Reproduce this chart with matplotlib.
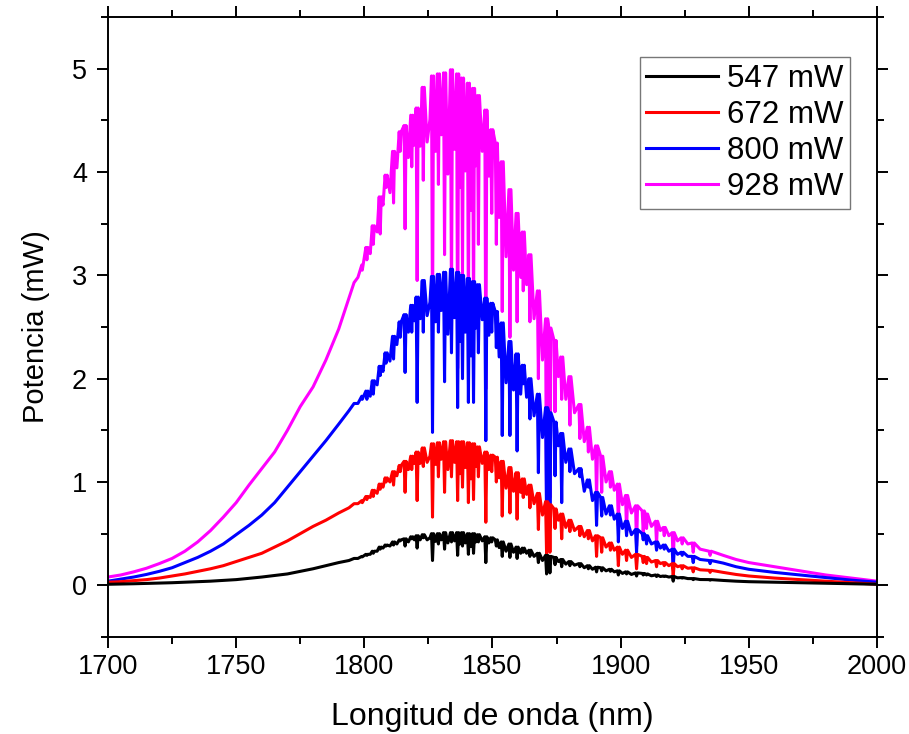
import numpy as np
import matplotlib
matplotlib.use("Agg")
import matplotlib.pyplot as plt
from matplotlib.ticker import MultipleLocator

plt.rcParams['font.family'] = ['Liberation Sans', 'DejaVu Sans']

labels = ["547 mW", "672 mW", "800 mW", "928 mW"]
colors = ["#000000", "#ff0000", "#0000ff", "#ff00ff"]

# --- smooth rising edge ---
left_wl = [1700, 1705, 1710, 1715, 1720, 1725, 1730, 1735, 1740, 1745, 1750,
           1755, 1760, 1765, 1770, 1775, 1780, 1785, 1790, 1794, 1796, 1799]
left_547 = [0.01, 0.012, 0.015, 0.018, 0.02, 0.025, 0.03, 0.035, 0.04, 0.048, 0.055,
            0.067, 0.08, 0.095, 0.11, 0.135, 0.16, 0.19, 0.22, 0.24, 0.26, 0.28]
left_672 = [0.03, 0.035, 0.045, 0.055, 0.07, 0.09, 0.11, 0.135, 0.16, 0.19, 0.23,
            0.27, 0.31, 0.37, 0.43, 0.50, 0.57, 0.63, 0.70, 0.75, 0.79, 0.82]
left_800 = [0.04, 0.06, 0.08, 0.105, 0.135, 0.17, 0.22, 0.27, 0.33, 0.40, 0.49,
            0.58, 0.68, 0.80, 0.95, 1.10, 1.25, 1.40, 1.56, 1.69, 1.76, 1.83]
left_928 = [0.08, 0.10, 0.13, 0.165, 0.21, 0.26, 0.33, 0.42, 0.53, 0.66, 0.80,
            0.97, 1.13, 1.29, 1.50, 1.73, 1.92, 2.18, 2.48, 2.78, 2.93, 3.10]

# --- strong absorption lines: wavelength, level beside the line, level at the bottom ---
dip_wl = [1801.0, 1803.5, 1806.2, 1808.5, 1811.4, 1814.0, 1815.9, 1818.5, 1820.6, 1823.0,
          1826.6, 1828.9, 1831.3, 1834.0, 1836.4, 1838.3, 1840.6, 1842.6, 1844.5, 1847.4,
          1849.7, 1851.5, 1853.8, 1856.8, 1859.6, 1862.0, 1864.6, 1867.9, 1871.1, 1872.4,
          1874.4, 1877.0, 1880.2, 1884.1, 1887.4, 1890.6, 1892.6, 1896.0, 1899.1, 1902.3,
          1906.2, 1908.8, 1910.1, 1914.0, 1917.0, 1920.5, 1924.0, 1928.3, 1934.9]

top_547 = [0.30, 0.33, 0.37, 0.39, 0.42, 0.44, 0.45, 0.47, 0.48, 0.49,
           0.50, 0.50, 0.51, 0.51, 0.51, 0.51, 0.50, 0.50, 0.49, 0.47,
           0.46, 0.44, 0.42, 0.40, 0.37, 0.36, 0.34, 0.31, 0.29, 0.28,
           0.27, 0.25, 0.23, 0.21, 0.19, 0.175, 0.17, 0.155, 0.14, 0.13,
           0.12, 0.115, 0.11, 0.10, 0.09, 0.085, 0.075, 0.065, 0.055]
bot_547 = [0.29, 0.31, 0.35, 0.38, 0.39, 0.43, 0.38, 0.45, 0.36, 0.46,
           0.24, 0.40, 0.35, 0.42, 0.29, 0.38, 0.30, 0.31, 0.42, 0.22,
           0.42, 0.38, 0.28, 0.27, 0.26, 0.32, 0.28, 0.22, 0.11, 0.12,
           0.20, 0.18, 0.19, 0.18, 0.16, 0.13, 0.14, 0.135, 0.10, 0.11,
           0.09, 0.10, 0.10, 0.085, 0.085, 0.04, 0.07, 0.055, 0.05]

top_672 = [0.86, 0.92, 0.98, 1.04, 1.10, 1.16, 1.20, 1.25, 1.29, 1.33,
           1.37, 1.38, 1.39, 1.40, 1.39, 1.39, 1.38, 1.37, 1.34, 1.29,
           1.26, 1.24, 1.20, 1.14, 1.09, 1.03, 0.97, 0.89, 0.81, 0.78,
           0.74, 0.69, 0.63, 0.57, 0.53, 0.48, 0.46, 0.41, 0.37, 0.34,
           0.30, 0.28, 0.27, 0.24, 0.22, 0.21, 0.19, 0.17, 0.145]
bot_672 = [0.83, 0.86, 0.93, 1.00, 0.97, 1.10, 0.90, 1.12, 0.82, 1.15,
           0.66, 1.05, 0.90, 1.05, 0.82, 0.95, 0.80, 0.83, 1.05, 0.61,
           1.10, 1.00, 0.67, 0.70, 0.64, 0.85, 0.75, 0.54, 0.30, 0.32,
           0.55, 0.45, 0.52, 0.48, 0.45, 0.28, 0.32, 0.34, 0.19, 0.24,
           0.16, 0.22, 0.21, 0.18, 0.19, 0.09, 0.16, 0.13, 0.125]

top_800 = [1.88, 1.98, 2.12, 2.25, 2.41, 2.55, 2.62, 2.71, 2.79, 2.95,
           2.99, 3.01, 3.03, 3.06, 3.03, 3.00, 2.97, 2.94, 2.91, 2.78,
           2.73, 2.65, 2.54, 2.36, 2.24, 2.13, 2.00, 1.85, 1.72, 1.67,
           1.58, 1.47, 1.32, 1.13, 1.02, 0.90, 0.85, 0.77, 0.69, 0.62,
           0.54, 0.50, 0.48, 0.42, 0.39, 0.35, 0.32, 0.28, 0.24]
bot_800 = [1.80, 1.85, 2.03, 2.15, 2.19, 2.40, 2.06, 2.45, 1.77, 2.45,
           1.48, 2.45, 1.97, 2.25, 1.72, 2.00, 1.77, 1.77, 2.25, 1.40,
           2.45, 2.30, 1.45, 1.45, 1.30, 1.95, 1.61, 1.09, 0.62, 0.64,
           1.06, 0.80, 1.10, 1.05, 0.95, 0.58, 0.67, 0.68, 0.42, 0.48,
           0.32, 0.44, 0.40, 0.34, 0.35, 0.16, 0.29, 0.22, 0.21]

top_928 = [3.27, 3.48, 3.76, 3.97, 4.20, 4.39, 4.45, 4.55, 4.62, 4.82,
           4.93, 4.95, 4.96, 4.99, 4.95, 4.91, 4.86, 4.81, 4.74, 4.60,
           4.41, 4.28, 4.10, 3.83, 3.60, 3.42, 3.20, 2.85, 2.58, 2.49,
           2.37, 2.21, 2.02, 1.75, 1.53, 1.35, 1.25, 1.10, 0.98, 0.87,
           0.77, 0.72, 0.69, 0.62, 0.56, 0.51, 0.46, 0.41, 0.33]
bot_928 = [3.15, 3.30, 3.40, 3.85, 3.70, 4.20, 3.45, 4.05, 2.95, 3.92,
           2.45, 3.88, 3.20, 2.70, 2.10, 3.00, 2.55, 2.60, 3.30, 1.90,
           3.60, 3.30, 2.65, 2.40, 2.55, 2.85, 2.55, 2.00, 0.70, 0.85,
           1.68, 1.80, 1.55, 1.42, 1.29, 0.84, 0.90, 0.95, 0.58, 0.51,
           0.38, 0.51, 0.55, 0.40, 0.48, 0.22, 0.40, 0.32, 0.29]

# --- weaker lines between them: wavelength and level at the bottom ---
weak_wl = [1797.5, 1799.2, 1802.3, 1805.0, 1807.3, 1810.0, 1812.7, 1817.2, 1819.5, 1821.8,
           1824.5, 1825.6, 1827.8, 1830.0, 1832.6, 1835.2, 1837.3, 1839.4, 1841.6, 1843.5,
           1846.0, 1848.6, 1852.6, 1855.3, 1858.2, 1861.0, 1863.3, 1866.2, 1869.5, 1875.7,
           1878.6, 1882.0, 1885.8, 1889.0, 1894.3, 1897.5, 1900.7, 1904.2, 1912.0, 1915.5,
           1918.8, 1922.2, 1926.2, 1931.0]
weak_547 = [0.26, 0.275, 0.30, 0.33, 0.36, 0.38, 0.40, 0.42, 0.44, 0.44,
            0.44, 0.46, 0.425, 0.44, 0.41, 0.43, 0.40, 0.41, 0.375, 0.42,
            0.43, 0.41, 0.365, 0.33, 0.32, 0.31, 0.31, 0.28, 0.24, 0.23,
            0.205, 0.195, 0.17, 0.155, 0.14, 0.13, 0.115, 0.105, 0.092, 0.085,
            0.08, 0.072, 0.065, 0.056]
weak_672 = [0.79, 0.80, 0.85, 0.89, 0.95, 1.00, 1.06, 1.12, 1.18, 1.18,
            1.19, 1.25, 1.17, 1.22, 1.12, 1.19, 1.08, 1.14, 1.03, 1.15,
            1.18, 1.12, 1.04, 0.94, 0.91, 0.90, 0.88, 0.79, 0.68, 0.63,
            0.56, 0.53, 0.47, 0.43, 0.37, 0.34, 0.30, 0.27, 0.225, 0.21,
            0.19, 0.18, 0.165, 0.15]
weak_800 = [1.76, 1.80, 1.83, 1.94, 2.07, 2.17, 2.33, 2.45, 2.56, 2.58,
            2.61, 2.74, 2.55, 2.66, 2.43, 2.59, 2.36, 2.45, 2.22, 2.49,
            2.57, 2.42, 2.21, 1.96, 1.89, 1.85, 1.82, 1.64, 1.43, 1.35,
            1.19, 1.08, 0.91, 0.82, 0.69, 0.64, 0.55, 0.49, 0.40, 0.36,
            0.33, 0.30, 0.28, 0.25]
weak_928 = [2.98, 3.05, 3.21, 3.42, 3.68, 3.80, 4.04, 4.14, 4.26, 4.25,
            4.29, 4.51, 4.20, 4.36, 3.98, 4.22, 3.85, 4.01, 3.63, 4.06,
            4.20, 3.96, 3.56, 3.18, 3.05, 2.98, 2.91, 2.58, 2.18, 2.02,
            1.80, 1.67, 1.39, 1.22, 1.00, 0.92, 0.78, 0.70, 0.57, 0.53,
            0.48, 0.43, 0.40, 0.35]

# --- smooth tail ---
right_wl = [1940, 1945, 1950, 1960, 1970, 1980, 1990, 2000]
right_547 = [0.047, 0.04, 0.035, 0.03, 0.025, 0.02, 0.015, 0.01]
right_672 = [0.125, 0.105, 0.09, 0.07, 0.055, 0.04, 0.025, 0.01]
right_800 = [0.215, 0.18, 0.155, 0.125, 0.10, 0.075, 0.05, 0.03]
right_928 = [0.29, 0.25, 0.22, 0.18, 0.14, 0.10, 0.07, 0.04]


def spectrum(left_p, tops, bots, weak_p, right_p, half=0.4):
    x = list(left_wl) + list(weak_wl) + list(right_wl)
    y = list(left_p) + list(weak_p) + list(right_p)
    for w, t, b in zip(dip_wl, tops, bots):
        x += [w - half, w, w + half]
        y += [t, b, t]
    x = np.array(x)
    y = np.array(y)
    order = np.argsort(x, kind="stable")
    return x[order], y[order]


series = [
    spectrum(left_547, top_547, bot_547, weak_547, right_547),
    spectrum(left_672, top_672, bot_672, weak_672, right_672),
    spectrum(left_800, top_800, bot_800, weak_800, right_800),
    spectrum(left_928, top_928, bot_928, weak_928, right_928),
]

fig = plt.figure(figsize=(9.09, 7.34), dpi=100)
ax = fig.add_axes([0.1188, 0.1322, 0.846, 0.8446])

handles = [None] * 4
for i in [3, 2, 1, 0]:
    x, y = series[i]
    (h,) = ax.plot(x, y, color=colors[i], lw=2.2, label=labels[i])
    handles[i] = h

ax.set_xlim(1700, 2000)
ax.set_ylim(-0.5, 5.5)
ax.xaxis.set_major_locator(MultipleLocator(50))
ax.xaxis.set_minor_locator(MultipleLocator(25))
ax.yaxis.set_major_locator(MultipleLocator(1))
ax.yaxis.set_minor_locator(MultipleLocator(0.5))
ax.tick_params(which='both', direction='out', top=True, right=True, width=1.4)
ax.tick_params(which='major', length=8, labelsize=19.5)
ax.tick_params(which='minor', length=5)
ax.tick_params(axis='y', which='major', pad=7)
ax.tick_params(axis='x', which='major', pad=4)
for s in ax.spines.values():
    s.set_linewidth(1.4)

ax.set_xlabel("Longitud de onda (nm)", fontsize=23, labelpad=16)
ax.set_ylabel("Potencia (mW)", fontsize=21, labelpad=16)

leg = ax.legend(handles=handles, labels=labels, loc='upper right',
                bbox_to_anchor=(0.965, 0.935), fontsize=22.5, frameon=True,
                fancybox=False, edgecolor='#555555', handlelength=2.3,
                labelspacing=0.2, borderpad=0.2, handletextpad=0.3,
                borderaxespad=0)
leg.get_frame().set_linewidth(1.0)

fig.savefig("out.png", dpi=100)
